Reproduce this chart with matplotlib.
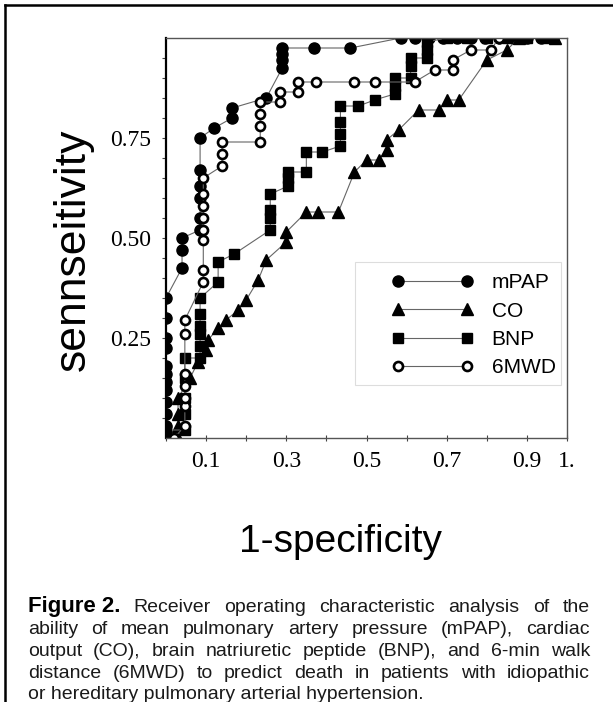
import numpy as np
import matplotlib
matplotlib.use("Agg")
from matplotlib import pyplot as plt
from matplotlib.lines import Line2D
from matplotlib.patches import Rectangle

# --- ROC points (x = 1-specificity, y = sensitivity)
mpap_x = [0.0, 0.0, 0.0, 0.0, 0.0, 0.0, 0.0, 0.0, 0.0, 0.0, 0.0, 0.0,
          0.04, 0.04, 0.04, 0.085, 0.085, 0.085, 0.085, 0.085, 0.085,
          0.12, 0.165, 0.165, 0.25, 0.29, 0.29, 0.29, 0.29, 0.37, 0.46,
          0.585, 0.62, 0.655, 0.69, 0.725, 0.76, 0.795, 0.83, 0.865, 0.90,
          0.935, 0.965]
mpap_y = [0.0, 0.03, 0.06, 0.09, 0.12, 0.14, 0.16, 0.18, 0.225, 0.25, 0.30, 0.35,
          0.425, 0.47, 0.50, 0.52, 0.55, 0.60, 0.63, 0.67, 0.75,
          0.775, 0.80, 0.825, 0.85, 0.925, 0.945, 0.96, 0.975, 0.975, 0.975,
          1.0, 1.0, 1.0, 1.0, 1.0, 1.0, 1.0, 1.0, 1.0, 1.0,
          1.0, 1.0]

co_x = [0.0, 0.03, 0.03, 0.03, 0.03, 0.06, 0.08, 0.10, 0.105, 0.13, 0.15, 0.18,
        0.20, 0.23, 0.25, 0.30, 0.30, 0.35, 0.38, 0.43, 0.47, 0.50, 0.53,
        0.55, 0.55, 0.58, 0.63, 0.68, 0.70, 0.73, 0.80, 0.85, 0.88, 0.97]
co_y = [0.0, 0.0, 0.03, 0.06, 0.10, 0.15, 0.19, 0.22, 0.245, 0.275, 0.295, 0.32,
        0.345, 0.395, 0.445, 0.49, 0.515, 0.565, 0.565, 0.565, 0.665, 0.695, 0.695,
        0.72, 0.745, 0.77, 0.82, 0.82, 0.845, 0.845, 0.945, 0.97, 1.0, 1.0]

bnp_x = [0.0, 0.0, 0.047, 0.047, 0.047, 0.047, 0.047, 0.085, 0.085, 0.085, 0.085,
         0.085, 0.085, 0.13, 0.13, 0.17, 0.26, 0.26, 0.26, 0.26, 0.305, 0.305,
         0.305, 0.35, 0.35, 0.39, 0.435, 0.435, 0.435, 0.435, 0.48, 0.52, 0.57,
         0.57, 0.57, 0.61, 0.61, 0.61, 0.65, 0.65, 0.65, 0.70, 0.75, 0.80, 0.85,
         0.90, 0.95]
bnp_y = [0.0, 0.02, 0.02, 0.06, 0.10, 0.15, 0.20, 0.20, 0.23, 0.26, 0.28,
         0.31, 0.35, 0.39, 0.44, 0.46, 0.52, 0.55, 0.57, 0.61, 0.63, 0.65,
         0.665, 0.665, 0.715, 0.715, 0.73, 0.76, 0.79, 0.83, 0.83, 0.845, 0.86,
         0.88, 0.90, 0.90, 0.93, 0.95, 0.95, 0.97, 0.99, 1.0, 1.0, 1.0, 1.0,
         1.0, 1.0]

mwd_x = [0.02, 0.047, 0.047, 0.047, 0.047, 0.047, 0.047, 0.047, 0.093, 0.093,
         0.093, 0.093, 0.093, 0.093, 0.093, 0.093, 0.14, 0.14, 0.14, 0.235, 0.235,
         0.235, 0.235, 0.285, 0.285, 0.33, 0.33, 0.375, 0.47, 0.52, 0.62, 0.67,
         0.715, 0.715, 0.76, 0.81, 0.83]
mwd_y = [0.0, 0.03, 0.08, 0.10, 0.13, 0.16, 0.26, 0.295, 0.39, 0.42,
         0.495, 0.52, 0.55, 0.58, 0.61, 0.65, 0.68, 0.71, 0.74, 0.74, 0.78,
         0.81, 0.84, 0.84, 0.865, 0.865, 0.89, 0.89, 0.89, 0.89, 0.89, 0.92,
         0.92, 0.945, 0.97, 0.97, 1.0]

x_ticks = [0.0, 0.1, 0.2, 0.3, 0.4, 0.5, 0.6, 0.7, 0.8, 0.9, 1.0]
x_ticklabels = ["", "0.1", "", "0.3", "", "0.5", "", "0.7", "", "0.9", "1."]
y_ticks = [0.25, 0.50, 0.75]
y_ticklabels = ["0.25", "0.50", "0.75"]

caption_head = "Figure 2."
caption = [
    "Receiver operating characteristic analysis of the",
    "ability of mean pulmonary artery pressure (mPAP), cardiac",
    "output (CO), brain natriuretic peptide (BNP), and 6-min walk",
    "distance (6MWD) to predict death in patients with idiopathic",
    "or hereditary pulmonary arterial hypertension.",
]

W, H = 613, 702
fig = plt.figure(figsize=(W / 100, H / 100), dpi=100)
ax = fig.add_axes([166 / W, 1 - 438 / H, 401 / W, 400 / H])

line_kw = dict(color="#666666", lw=0.8)
ax.plot(mpap_x, mpap_y, marker="o", ms=8, mfc="black", mec="black", label="mPAP", **line_kw)
ax.plot(co_x, co_y, marker="^", ms=8, mfc="black", mec="black", label="CO", **line_kw)
ax.plot(bnp_x, bnp_y, marker="s", ms=7, mfc="black", mec="black", label="BNP", **line_kw)
ax.plot(mwd_x, mwd_y, marker="o", ms=6.5, mfc="white", mec="black", mew=1.9, label="6MWD", **line_kw)

ax.set_xlim(0, 1.0)
ax.set_ylim(0, 1.0)
ax.set_xticks(x_ticks)
ax.set_xticklabels(x_ticklabels, fontfamily="Liberation Serif", fontsize=17)
ax.set_yticks(y_ticks)
ax.set_yticklabels(y_ticklabels, fontfamily="Liberation Serif", fontsize=17)
ax.set_yticks(np.arange(0.05, 1.0, 0.05), minor=True)
ax.tick_params(axis="x", direction="inout", length=5, width=0.8, pad=7, color="#444444")
ax.tick_params(axis="y", which="both", direction="out", length=3, width=0.8, pad=8, color="#444444")

for s in ["top", "right", "bottom"]:
    ax.spines[s].set_color("#555555")
    ax.spines[s].set_linewidth(1.0)
ax.spines["left"].set_color("black")
ax.spines["left"].set_linewidth(1.6)

ax.set_ylabel("sennseitivity", fontfamily="Liberation Sans", fontsize=32)
ax.yaxis.set_label_coords(-0.18, 0.47)
ax.set_xlabel("1-specificity", fontfamily="Liberation Sans", fontsize=28)
ax.xaxis.set_label_coords(0.435, -0.215)

# legend: light frame drawn separately
ax.add_patch(Rectangle((0.4725, 0.1325), 0.5125, 0.3075, transform=ax.transAxes,
                       fill=False, ec="#dddddd", lw=0.8, zorder=1))
ax.legend(loc="upper left", bbox_to_anchor=(0.5625, 0.412), frameon=False,
          numpoints=2, handlelength=3.9, handletextpad=0.9, labelspacing=0.45,
          borderpad=0, borderaxespad=0,
          prop={"family": "Liberation Sans", "size": 15})

# page border (left and top rules)
fig.add_artist(Line2D([5 / W, 5 / W], [0, 1 - 5 / H], color="black", lw=1.8))
fig.add_artist(Line2D([5 / W, 1], [1 - 5 / H, 1 - 5 / H], color="black", lw=1.8))

# caption, justified by hand
fig.canvas.draw()
r = fig.canvas.get_renderer()
x0, x1 = 28 / W, 590 / W
cap_kw = dict(family="Liberation Sans", size=14, color="#1a1a1a", va="baseline")
head_kw = dict(family=["Liberation Sans Narrow", "Liberation Sans"], size=16,
               weight="bold", color="black", va="baseline")
base_y = [612, 634, 656, 678, 699]


def justify(words, styles, y, start):
    ts = [fig.text(0, y, w, **st) for w, st in zip(words, styles)]
    ws = [t.get_window_extent(r).width / W for t in ts]
    gap = (x1 - start - sum(ws)) / (len(ws) - 1)
    x = start
    for t, w in zip(ts, ws):
        t.set_x(x)
        x += w + gap


for i, line in enumerate(caption):
    y = 1 - base_y[i] / H
    words = line.split(" ")
    if i == 0:
        h = fig.text(x0, y, caption_head, **head_kw)
        hw = h.get_window_extent(r).width / W
        justify(words, [cap_kw] * len(words), y, x0 + hw + 13 / W)
    elif i < len(caption) - 1:
        justify(words, [cap_kw] * len(words), y, x0)
    else:
        fig.text(x0, y, line, **cap_kw)

fig.savefig("out.png", dpi=100)
